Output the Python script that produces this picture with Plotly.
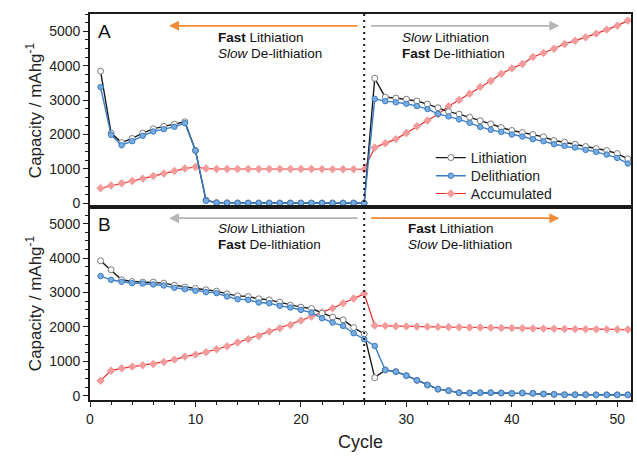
import plotly.graph_objects as go

cycles = list(range(1, 52))

# Panel A (fast lithiation / slow de-lithiation, then slow / fast)
lith_A = [3840, 2040, 1765, 1885, 2040, 2165, 2235, 2300, 2370, 1535,
          90, 20, 15, 12, 10, 10, 10, 10, 10, 10, 10, 10, 10, 10, 10, 5,
          3634, 3084, 3060, 3026, 2973, 2885, 2780, 2665, 2594, 2502,
          2400, 2311, 2204, 2117, 2058, 2000, 1932, 1825, 1777, 1718,
          1650, 1592, 1534, 1447, 1291]
delith_A = [3380, 1990, 1690, 1806, 1961, 2087, 2155, 2223, 2330, 1534,
            75, 15, 10, 8, 8, 8, 8, 8, 8, 8, 8, 8, 8, 8, 8, 5,
            3035, 2970, 2935, 2895, 2825, 2740, 2600, 2525, 2440, 2340,
            2220, 2136, 2078, 2000, 1942, 1864, 1806, 1718, 1670, 1621,
            1553, 1495, 1417, 1320, 1155]
accum_A = [437, 515, 583, 650, 718, 796, 864, 942, 1010, 1055,
           1010, 1000, 1000, 1000, 1000, 1000, 998, 998, 996, 996,
           995, 994, 993, 992, 991, 990,
           1621, 1748, 1866, 2045, 2240, 2410, 2590, 2820, 3005, 3185,
           3385, 3553, 3767, 3922, 4049, 4252, 4369, 4495, 4631, 4728,
           4825, 4932, 5049, 5165, 5311]

# Panel B (slow lithiation / fast de-lithiation, then fast / slow)
lith_B = [3922, 3660, 3369, 3320, 3301, 3301, 3272, 3214, 3155, 3117,
          3078, 3039, 2961, 2903, 2883, 2816, 2786, 2718, 2631, 2573,
          2534, 2398, 2282, 2204, 1981, 1796,
          524, 748, 699, 583, 447, 311, 190, 146, 87, 78,
          87, 87, 78, 68, 78, 70, 49, 39, 29, 29,
          29, 25, 25, 25, 25]
delith_B = [3476, 3369, 3311, 3272, 3262, 3233, 3204, 3136, 3097, 3049,
            3010, 2981, 2883, 2806, 2786, 2709, 2689, 2612, 2563, 2495,
            2417, 2252, 2126, 2029, 1816, 1641,
            1447, 748, 699, 583, 447, 311, 190, 146, 87, 78,
            87, 87, 78, 68, 78, 70, 49, 39, 29, 29,
            29, 25, 25, 25, 25]
accum_B = [437, 728, 796, 845, 883, 922, 981, 1049, 1136, 1194,
           1262, 1350, 1437, 1544, 1641, 1738, 1864, 1961, 2058, 2184,
           2301, 2417, 2544, 2689, 2825, 2961,
           2039, 2030, 2020, 2015, 2010, 2005, 2000, 1995, 1990, 1985,
           1980, 1975, 1970, 1965, 1960, 1955, 1950, 1945, 1940, 1935,
           1932, 1930, 1928, 1925, 1922]

series_names = ["Lithiation", "Delithiation", "Accumulated"]
switch_cycle = 26

FONT = "Liberation Sans, Arial, sans-serif"
BLACK = "#1a1a1a"
BLUE = "#3a7dc6"
BLUE_FILL = "#79acdf"
RED = "#ee2a2a"
PINK = "#f39b9b"
ORANGE = "#f28a36"
GRAY = "#b5b5b5"

fig = go.Figure()

def add_panel(lith, delith, accum, xa, ya, legend):
    fig.add_trace(go.Scatter(
        x=cycles, y=accum, name=series_names[2], mode="lines+markers",
        line=dict(color=RED, width=1.2),
        marker=dict(symbol="diamond", size=6.5, color=PINK, line=dict(width=0)),
        xaxis=xa, yaxis=ya, showlegend=legend, legend="legend3"))
    fig.add_trace(go.Scatter(
        x=cycles, y=lith, name=series_names[0], mode="lines+markers",
        line=dict(color=BLACK, width=1.4),
        marker=dict(symbol="circle", size=6, color="white",
                    line=dict(color="#7a7a7a", width=1)),
        xaxis=xa, yaxis=ya, showlegend=legend, legend="legend"))
    fig.add_trace(go.Scatter(
        x=cycles, y=delith, name=series_names[1], mode="lines+markers",
        line=dict(color=BLUE, width=1.4),
        marker=dict(symbol="circle", size=5.5, color=BLUE_FILL,
                    line=dict(color=BLUE, width=1)),
        xaxis=xa, yaxis=ya, showlegend=legend, legend="legend2"))

add_panel(lith_A, delith_A, accum_A, "x", "y", True)
add_panel(lith_B, delith_B, accum_B, "x2", "y2", False)

axis_common = dict(showline=True, linecolor=BLACK, linewidth=1.8, mirror=True,
                   showgrid=False, zeroline=False,
                   tickfont=dict(family=FONT, size=14, color="#222"))

yaxis_common = dict(axis_common, tickmode="linear", dtick=1000, tick0=0,
                    ticks="outside", ticklen=5, tickwidth=1.3, tickcolor=BLACK,
                    minor=dict(dtick=250, tick0=0, ticks="outside", ticklen=3,
                               tickwidth=1, tickcolor=BLACK),
                    title=dict(text="Capacity / mAhg<sup>-1</sup>",
                               font=dict(family=FONT, size=17, color="#222"),
                               standoff=3))

def legend_box(ypos):
    return dict(x=0.63, y=ypos, xanchor="left", yanchor="middle",
                bgcolor="rgba(0,0,0,0)", borderwidth=0,
                font=dict(family=FONT, size=14, color="#222"), itemwidth=30)

fig.update_layout(
    width=637, height=457,
    margin=dict(l=90, r=4, t=14, b=57),
    paper_bgcolor="white", plot_bgcolor="white",
    font=dict(family=FONT, color="#222"),
    xaxis=dict(axis_common, domain=[0, 1], anchor="y", range=[0, 51.3],
               showticklabels=False, ticks=""),
    yaxis=dict(yaxis_common, domain=[0.5, 1], anchor="x", range=[-107, 5503]),
    xaxis2=dict(axis_common, domain=[0, 1], anchor="y2", range=[0, 51.3],
                tickmode="linear", dtick=10, tick0=0,
                ticks="outside", ticklen=5, tickwidth=1.3, tickcolor=BLACK,
                minor=dict(dtick=2, tick0=0, ticks="outside", ticklen=3,
                           tickwidth=1, tickcolor=BLACK),
                title=dict(text="Cycle", font=dict(family=FONT, size=18, color="#222"),
                           standoff=10)),
    yaxis2=dict(yaxis_common, domain=[0, 0.5], anchor="x2", range=[-125, 5485]),
    legend=legend_box(0.627),
    legend2=legend_box(0.580),
    legend3=legend_box(0.534),
    showlegend=True,
)

# vertical dotted separator
fig.add_shape(type="line", xref="x", yref="paper", x0=switch_cycle, x1=switch_cycle,
              y0=0, y1=1, line=dict(color=BLACK, width=2, dash="2px,4px"))

# panel letters
fig.add_annotation(xref="x", yref="y", x=0.6, y=5000, text="A", showarrow=False,
                   xanchor="left", yanchor="middle",
                   font=dict(family=FONT, size=19, color="#111"))
fig.add_annotation(xref="x2", yref="y2", x=0.6, y=4970, text="B", showarrow=False,
                   xanchor="left", yanchor="middle",
                   font=dict(family=FONT, size=19, color="#111"))

# arrows
def arrow(xa, ya, x_head, x_tail, yv, color):
    fig.add_annotation(xref=xa, yref=ya, axref=xa, ayref=ya,
                       x=x_head, y=yv, ax=x_tail, ay=yv, text="",
                       showarrow=True, arrowhead=2, arrowsize=1.1,
                       arrowwidth=1.8, arrowcolor=color)

arrow("x", "y", 7.5, 25.5, 5160, ORANGE)
arrow("x", "y", 44.5, 26.5, 5160, GRAY)
arrow("x2", "y2", 7.5, 25.5, 5160, GRAY)
arrow("x2", "y2", 44.5, 26.5, 5160, ORANGE)

fast_lines = ["<b>Fast</b> Lithiation", "<i>Slow</i> De-lithiation"]
slow_lines = ["<i>Slow</i> Lithiation", "<b>Fast</b> De-lithiation"]

def label(xa, ya, xv, y1, y2, lines):
    for yv, txt in zip((y1, y2), lines):
        fig.add_annotation(xref=xa, yref=ya, x=xv, y=yv, text=txt, showarrow=False,
                           xanchor="left", yanchor="middle", align="left",
                           height=15, borderpad=0,
                           font=dict(family=FONT, size=13.5, color="#111"))

label("x", "y", 12.05, 4834, 4369, fast_lines)
label("x", "y", 29.45, 4834, 4369, slow_lines)
label("x2", "y2", 12.05, 4846, 4381, slow_lines)
label("x2", "y2", 30.1, 4846, 4381, fast_lines)

fig.write_html("out.html")
